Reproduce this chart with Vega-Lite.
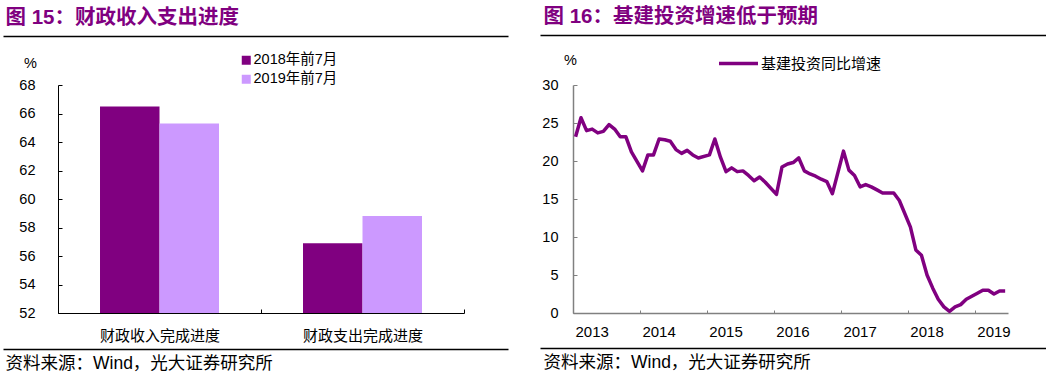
{
  "$schema": "https://vega.github.io/schema/vega-lite/v6.json",
  "padding": {"left": 3, "top": 6, "right": 0, "bottom": 0},
  "background": "white",
  "spacing": 32,
  "resolve": {"scale": {"color": "independent"}, "legend": {"color": "independent"}},
  "config": {
    "view": {"stroke": null},
    "font": "Liberation Sans, Noto Sans CJK SC",
    "axis": {"grid": false, "labelColor": "#000000", "titleColor": "#000000"},
    "legend": {"labelColor": "#000000"}
  },
  "hconcat": [
    {
      "width": 406,
      "height": 228,
      "layer": [
        {
          "data": {"values": [
            {"item": "财政收入完成进度", "series": "2018年前7月", "value": 66.5},
            {"item": "财政收入完成进度", "series": "2019年前7月", "value": 65.3},
            {"item": "财政支出完成进度", "series": "2018年前7月", "value": 56.9},
            {"item": "财政支出完成进度", "series": "2019年前7月", "value": 58.8}
          ]},
          "mark": {"type": "bar", "clip": true},
          "encoding": {
            "x": {"field": "item", "type": "nominal", "sort": null,
              "scale": {"paddingInner": 0, "paddingOuter": 0},
              "axis": {"title": null, "labelAngle": 0, "tickBand": "extent", "tickSize": -4, "tickColor": "#000000", "domainColor": "#000000", "labelFontSize": 15, "labelPadding": 19, "orient": "bottom"}},
            "xOffset": {"field": "series", "type": "nominal", "sort": null,
              "scale": {"paddingInner": 0, "paddingOuter": 0.706}},
            "y": {"field": "value", "type": "quantitative",
              "scale": {"domain": [52, 68], "nice": false, "zero": false},
              "axis": {"values": [52, 54, 56, 58, 60, 62, 64, 66, 68], "tickSize": -4, "tickColor": "#000000", "domainColor": "#000000", "labelFontSize": 14.5, "labelPadding": 27,
                "title": "%", "titleAngle": 0, "titleX": -28, "titleY": -22, "titleAlign": "center", "titleBaseline": "middle", "titleFontSize": 14.5, "titleFontWeight": "normal"}},
            "color": {"field": "series", "type": "nominal", "sort": null,
              "scale": {"range": ["#800080", "#CC99FF"]},
              "legend": {"title": null, "orient": "none", "legendX": 181, "legendY": -32, "symbolType": "square", "symbolSize": 81, "symbolStrokeWidth": 0, "labelFontSize": 14.5, "labelOffset": 0, "rowPadding": 4, "padding": 0}}
          }
        },
        {
          "data": {"values": [{"d": 0}]},
          "mark": {"type": "point", "opacity": 0},
          "encoding": {
            "x": {"field": "d", "type": "quantitative", "scale": {"domain": [0, 1], "range": [0, 505]},
              "axis": {"orient": "top", "offset": 49, "position": -55, "domainColor": "#000000", "domainWidth": 1.5, "ticks": false, "labels": false, "grid": false,
                "title": "图 15：财政收入支出进度", "titleX": 2, "titleAlign": "left", "titleFontSize": 20.5, "titleFontWeight": "bold", "titleColor": "#800080", "titlePadding": 9}}
          }
        },
        {
          "data": {"values": [{"d": 0}]},
          "mark": {"type": "point", "opacity": 0},
          "encoding": {
            "x": {"field": "d", "type": "quantitative", "scale": {"domain": [0, 1], "range": [0, 505]},
              "axis": {"orient": "bottom", "offset": 36, "position": -55, "domainColor": "#000000", "domainWidth": 1.5, "ticks": false, "labels": false, "grid": false,
                "title": "资料来源：Wind，光大证券研究所", "titleX": 2, "titleAlign": "left", "titleFontSize": 17.5, "titleFontWeight": "normal", "titleColor": "#000000", "titlePadding": 5}}
          }
        }
      ],
      "resolve": {"scale": {"x": "independent"}}
    },
    {
      "width": 435,
      "height": 228,
      "layer": [
        {
          "data": {"values": [
            {"month": "2013-02-01", "v": 23.2}, {"month": "2013-03-01", "v": 25.7}, {"month": "2013-04-01", "v": 24.0}, {"month": "2013-05-01", "v": 24.2},
            {"month": "2013-06-01", "v": 23.7}, {"month": "2013-07-01", "v": 23.9}, {"month": "2013-08-01", "v": 24.8}, {"month": "2013-09-01", "v": 24.2},
            {"month": "2013-10-01", "v": 23.2}, {"month": "2013-11-01", "v": 23.2}, {"month": "2013-12-01", "v": 21.2},
            {"month": "2014-02-01", "v": 18.7}, {"month": "2014-03-01", "v": 20.8}, {"month": "2014-04-01", "v": 20.8}, {"month": "2014-05-01", "v": 22.9},
            {"month": "2014-06-01", "v": 22.8}, {"month": "2014-07-01", "v": 22.6}, {"month": "2014-08-01", "v": 21.5}, {"month": "2014-09-01", "v": 21.0},
            {"month": "2014-10-01", "v": 21.4}, {"month": "2014-11-01", "v": 20.8}, {"month": "2014-12-01", "v": 20.4},
            {"month": "2015-02-01", "v": 20.8}, {"month": "2015-03-01", "v": 22.9}, {"month": "2015-04-01", "v": 20.5}, {"month": "2015-05-01", "v": 18.6},
            {"month": "2015-06-01", "v": 19.1}, {"month": "2015-07-01", "v": 18.6}, {"month": "2015-08-01", "v": 18.7}, {"month": "2015-09-01", "v": 18.1},
            {"month": "2015-10-01", "v": 17.4}, {"month": "2015-11-01", "v": 17.9}, {"month": "2015-12-01", "v": 17.2},
            {"month": "2016-02-01", "v": 15.6}, {"month": "2016-03-01", "v": 19.2}, {"month": "2016-04-01", "v": 19.6}, {"month": "2016-05-01", "v": 19.8},
            {"month": "2016-06-01", "v": 20.4}, {"month": "2016-07-01", "v": 18.7}, {"month": "2016-08-01", "v": 18.3}, {"month": "2016-09-01", "v": 18.0},
            {"month": "2016-10-01", "v": 17.6}, {"month": "2016-11-01", "v": 17.3}, {"month": "2016-12-01", "v": 15.7},
            {"month": "2017-02-01", "v": 21.3}, {"month": "2017-03-01", "v": 18.8}, {"month": "2017-04-01", "v": 18.1}, {"month": "2017-05-01", "v": 16.6},
            {"month": "2017-06-01", "v": 16.9}, {"month": "2017-07-01", "v": 16.6}, {"month": "2017-08-01", "v": 16.2}, {"month": "2017-09-01", "v": 15.8},
            {"month": "2017-10-01", "v": 15.8}, {"month": "2017-11-01", "v": 15.8}, {"month": "2017-12-01", "v": 14.8},
            {"month": "2018-02-01", "v": 11.3}, {"month": "2018-03-01", "v": 8.3}, {"month": "2018-04-01", "v": 7.6}, {"month": "2018-05-01", "v": 5.0},
            {"month": "2018-06-01", "v": 3.3}, {"month": "2018-07-01", "v": 1.8}, {"month": "2018-08-01", "v": 0.8}, {"month": "2018-09-01", "v": 0.2},
            {"month": "2018-10-01", "v": 0.8}, {"month": "2018-11-01", "v": 1.1}, {"month": "2018-12-01", "v": 1.8},
            {"month": "2019-02-01", "v": 2.6}, {"month": "2019-03-01", "v": 3.0}, {"month": "2019-04-01", "v": 3.0}, {"month": "2019-05-01", "v": 2.5},
            {"month": "2019-06-01", "v": 2.9}, {"month": "2019-07-01", "v": 2.9}
          ]},
          "mark": {"type": "line", "strokeWidth": 3.5, "strokeJoin": "round"},
          "encoding": {
            "x": {"field": "month", "type": "temporal", "timeUnit": "utcyearmonth", "bandPosition": 0.5,
              "scale": {"domain": [{"year": 2013, "month": 2, "date": 1, "utc": true}, {"year": 2019, "month": 8, "date": 1, "utc": true}]},
              "axis": {"orient": "bottom", "title": null,
                "values": [
                  {"year": 2013, "month": 2, "date": 1, "utc": true}, {"year": 2014, "month": 2, "date": 1, "utc": true},
                  {"year": 2015, "month": 2, "date": 1, "utc": true}, {"year": 2016, "month": 2, "date": 1, "utc": true},
                  {"year": 2017, "month": 2, "date": 1, "utc": true}, {"year": 2018, "month": 2, "date": 1, "utc": true},
                  {"year": 2019, "month": 2, "date": 1, "utc": true}],
                "labelExpr": "utcFormat(datum.value, '%Y')", "labelAlign": "left", "labelOffset": 2, "labelFlush": false, "labelOverlap": false,
                "labelPadding": 14.5, "labelFontSize": 15, "tickSize": -3, "tickColor": "#808080", "domainColor": "#808080", "domainWidth": 1.5}},
            "y": {"field": "v", "type": "quantitative",
              "scale": {"domain": [0, 30], "nice": false},
              "axis": {"values": [0, 5, 10, 15, 20, 25, 30], "tickSize": -4, "tickColor": "#808080", "domainColor": "#808080", "domainWidth": 1.5, "labelFontSize": 14.5, "labelPadding": 19,
                "title": "%", "titleAngle": 0, "titleX": -3, "titleY": -25, "titleAlign": "center", "titleBaseline": "middle", "titleFontSize": 14.5, "titleFontWeight": "normal"}},
            "color": {"datum": "基建投资同比增速", "type": "nominal",
              "scale": {"range": ["#800080"]},
              "legend": {"title": null, "orient": "none", "legendX": 144, "legendY": -43, "symbolType": "stroke", "symbolSize": 1521, "symbolStrokeWidth": 3.5, "labelFontSize": 15, "labelOffset": 1, "padding": 0}}
          }
        },
        {
          "data": {"values": [{"d": 0}]},
          "mark": {"type": "point", "opacity": 0},
          "encoding": {
            "x": {"field": "d", "type": "quantitative", "scale": {"domain": [0, 1], "range": [0, 506]},
              "axis": {"orient": "top", "offset": 50, "position": -33, "domainColor": "#000000", "domainWidth": 1.5, "ticks": false, "labels": false, "grid": false,
                "title": "图 16：基建投资增速低于预期", "titleX": 3, "titleAlign": "left", "titleFontSize": 20.5, "titleFontWeight": "bold", "titleColor": "#800080", "titlePadding": 9}}
          }
        },
        {
          "data": {"values": [{"d": 0}]},
          "mark": {"type": "point", "opacity": 0},
          "encoding": {
            "x": {"field": "d", "type": "quantitative", "scale": {"domain": [0, 1], "range": [0, 506]},
              "axis": {"orient": "bottom", "offset": 35, "position": -33, "domainColor": "#000000", "domainWidth": 1.5, "ticks": false, "labels": false, "grid": false,
                "title": "资料来源：Wind，光大证券研究所", "titleX": 3, "titleAlign": "left", "titleFontSize": 17.5, "titleFontWeight": "normal", "titleColor": "#000000", "titlePadding": 5}}
          }
        }
      ],
      "resolve": {"scale": {"x": "independent"}}
    }
  ]
}
